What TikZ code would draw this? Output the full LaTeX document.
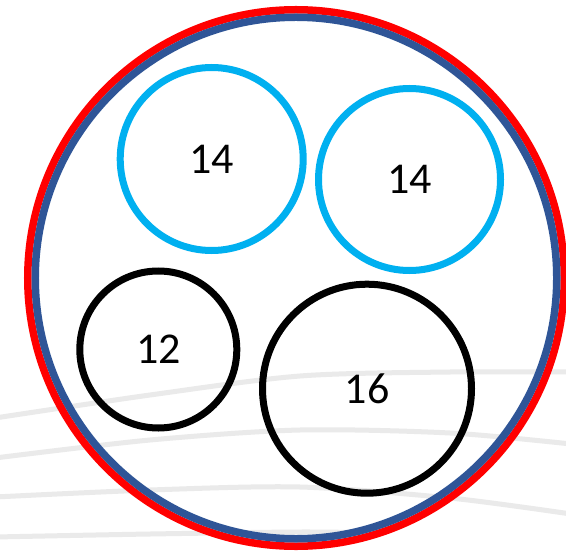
\documentclass[tikz,border=0pt]{standalone}
\usepackage{fontspec}
\setmainfont{Carlito}
\definecolor{ringred}{HTML}{FF0000}
\definecolor{ringblue}{HTML}{2F5597}
\definecolor{cyanring}{HTML}{00B0F0}
\definecolor{wmgray}{HTML}{EAEAEA}
\tikzset{
  wm/.style={draw=wmgray, line width=5bp, line cap=round},
  ring/.style={circle, draw, inner sep=0pt, line width=7bp, font=\fontsize{44bp}{44bp}\selectfont},
}
\begin{document}
\begin{tikzpicture}[x=1bp,y=-1bp]
\useasboundingbox[fill=white] (0,0) rectangle (566,552);
% faint background strokes
\draw[wm] plot[smooth] coordinates {(-5,418) (150,395) (300,376) (450,372) (571,372)};
\draw[wm] plot[smooth] coordinates {(-5,458) (150,440) (300,430) (450,433) (571,444)};
\draw[wm] plot[smooth] coordinates {(-5,497) (150,490) (300,487) (450,498) (571,514)};
\draw[wm] plot[smooth] coordinates {(-5,537) (150,534) (300,532) (380,533)};
% outer rings
\node[circle, draw=ringred, line width=7.5bp, inner sep=0pt, minimum size=536.5bp] (outerred) at (296,278) {};
\node[circle, draw=ringblue, line width=7.5bp, inner sep=0pt, minimum size=521.5bp] (outerblue) at (296,278) {};
% inner circles
\node[ring, draw=cyanring, minimum size=183bp] (a) at (211.7,159) {\raisebox{-2bp}{14}};
\node[ring, draw=cyanring, minimum size=182bp] (b) at (409.5,179.5) {\raisebox{-1.5bp}{14}};
\node[ring, draw=black, minimum size=157bp] (c) at (158.3,349.5) {\raisebox{-2bp}{12}};
\node[ring, draw=black, minimum size=209bp] (d) at (367,388.7) {\raisebox{-1.5bp}{16}};
\end{tikzpicture}
\end{document}
